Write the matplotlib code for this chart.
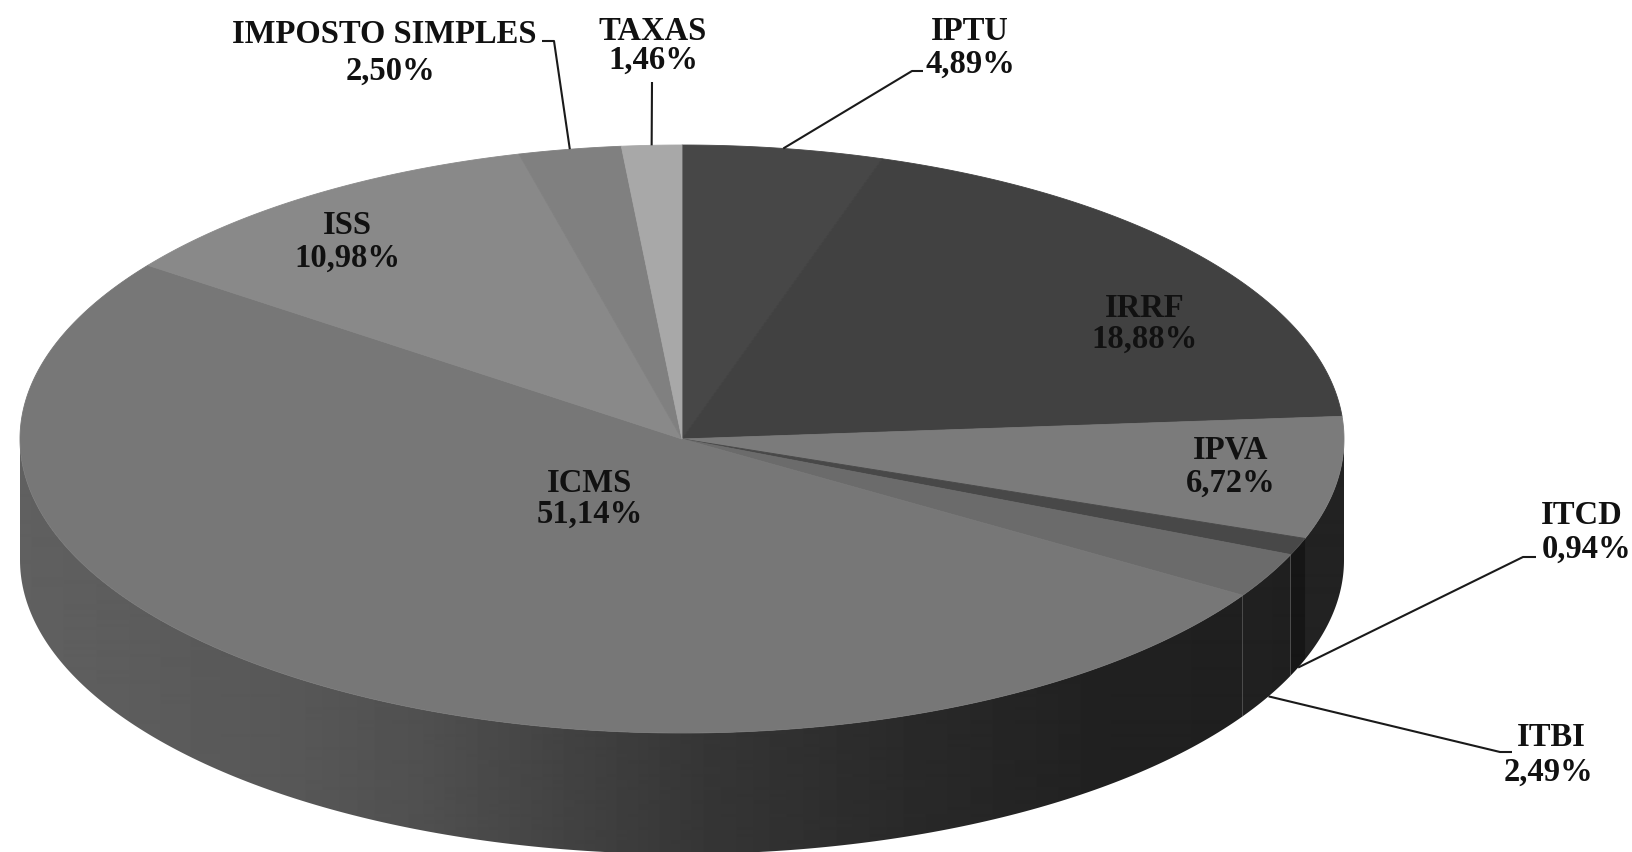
import numpy as np
import matplotlib
matplotlib.use("Agg")
import matplotlib.pyplot as plt
from matplotlib.patches import Polygon

# ---------------- data ----------------
categories = ["IPTU", "IRRF", "IPVA", "ITCD", "ITBI", "ICMS", "ISS",
              "IMPOSTO SIMPLES", "TAXAS"]
shares = [4.89, 18.88, 6.72, 0.94, 2.49, 51.14, 10.98, 2.50, 1.46]
top_colors = ["#474747", "#414141", "#7b7b7b", "#484848", "#6b6b6b",
              "#777777", "#898989", "#808080", "#a8a8a8"]
side_offsets = [0, 0, 4, -8, 1, 0, 0, 0, 0]

# ---------------- layout (pixel space) ----------------
W, H = 1632, 853
CX, CY, RX, RY, DEPTH = 682, 440, 662, 294, 121

# label centres (line 1, line 2)
label_pos = {
    "IPTU": ((970, 31), (970, 64)),
    "IRRF": ((1145, 308), (1145, 339)),
    "IPVA": ((1231, 450), (1231, 483)),
    "ITCD": ((1582, 515), (1587, 549)),
    "ITBI": ((1551, 737), (1548, 772)),
    "ICMS": ((590, 483), (590, 514)),
    "ISS": ((347, 225), (347, 258)),
    "IMPOSTO SIMPLES": ((384, 34), (390, 71)),
    "TAXAS": ((653, 31), (653, 60)),
}
# leader lines: elbow points from the label side, then edge of the pie
leaders = {
    "IMPOSTO SIMPLES": ([(542, 42), (554, 42)], "top"),
    "TAXAS": ([(652, 83)], "top"),
    "IPTU": ([(923, 72), (912, 72)], "top"),
    "ITCD": ([(1536, 558), (1523, 558)], "bottom"),
    "ITBI": ([(1512, 753), (1500, 753)], "bottom"),
}

def fmt(v):
    return f"{v:.2f}%".replace(".", ",")

fig = plt.figure(figsize=(W / 100, H / 100), dpi=100)
ax = fig.add_axes([0, 0, 1, 1])
ax.axis("off")

fr = np.array(shares) / sum(shares)
ends = np.cumsum(fr) * 2 * np.pi
starts = ends - fr * 2 * np.pi

def xy(t, dz=0.0):
    return CX + RX * np.sin(t), CY - RY * np.cos(t) + dz

# side wall gradient (grey level by x)
gx = np.array([19, 150, 300, 420, 550, 700, 900, 1100, 1343])
gv = np.array([96, 92, 87, 80, 68, 54, 42, 33, 30])
xs_img = np.arange(W)
base = np.interp(xs_img, gx, gv)

for i, (a, b) in enumerate(zip(starts, ends)):
    lo, hi = max(a, np.pi / 2), min(b, 3 * np.pi / 2)
    if hi <= lo:
        continue
    ts = np.linspace(lo, hi, 200)
    tx, ty = xy(ts)
    bx, by = xy(ts, DEPTH)
    pts = np.column_stack([np.concatenate([tx, bx[::-1]]),
                           np.concatenate([ty, by[::-1]])])
    poly = Polygon(pts, closed=True, facecolor="none", edgecolor="none")
    ax.add_patch(poly)
    row = np.clip(base + side_offsets[i], 0, 255)[None, :]
    im = ax.imshow(row, cmap="gray", vmin=0, vmax=255, aspect="auto",
                   extent=(0, W, H, 0), interpolation="bilinear", zorder=1)
    im.set_clip_path(poly)

# top face
for i, (a, b) in enumerate(zip(starts, ends)):
    ts = np.linspace(a, b, max(int((b - a) * 120), 4))
    tx, ty = xy(ts)
    pts = np.column_stack([np.concatenate([[CX], tx]),
                           np.concatenate([[CY], ty])])
    ax.add_patch(Polygon(pts, closed=True, facecolor=top_colors[i],
                         edgecolor=top_colors[i], linewidth=0.6, zorder=2))

# leader lines
for name, (elbow, edge) in leaders.items():
    i = categories.index(name)
    mid = (starts[i] + ends[i]) / 2
    ex, ey = xy(mid, DEPTH if edge == "bottom" else 0)
    px = [p[0] for p in elbow] + [ex]
    py = [p[1] for p in elbow] + [ey]
    ax.plot(px, py, color="#1a1a1a", lw=1.5, zorder=3, solid_capstyle="butt")

# labels
for i, name in enumerate(categories):
    (x1, y1), (x2, y2) = label_pos[name]
    kw = dict(ha="center", va="center", fontsize=23.5, fontweight="bold",
              family="Liberation Serif", color="#111111", zorder=4)
    ax.text(x1, y1, name, **kw)
    ax.text(x2, y2, fmt(shares[i]), **kw)

ax.set_xlim(0, W)
ax.set_ylim(H, 0)
fig.savefig("out.png", dpi=100, facecolor="white")
